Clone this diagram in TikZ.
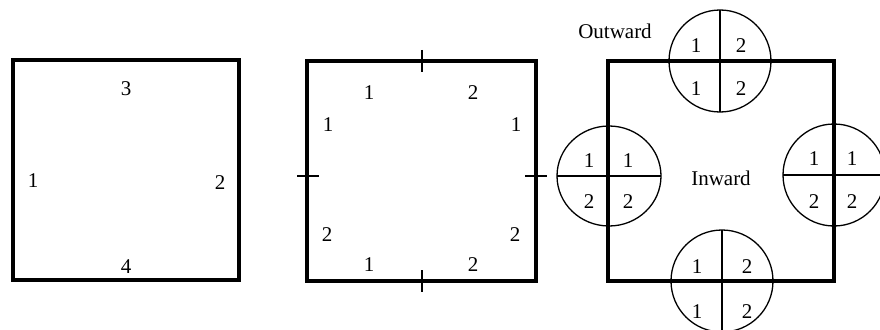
\documentclass[tikz,border=0pt]{standalone}
\usepackage{fontspec}
\setmainfont{Liberation Serif}
\begin{document}
\begin{tikzpicture}[x=1pt,y=-1pt,
  frame/.style={line width=4pt,line join=miter},
  thin/.style={line width=1.3pt},
  lbl/.style={inner sep=0pt,font=\fontsize{21}{24}\selectfont}]
\useasboundingbox (0,0) rectangle (880,329);
\clip (0,0) rectangle (880,329);
% ---- square 1
\draw[frame] (13,60) rectangle (239,280);
\node[lbl] (a3) at (126,89) {3};
\node[lbl] (a1) at (33,181) {1};
\node[lbl] (a2) at (220,183) {2};
\node[lbl] (a4) at (126,267) {4};
% ---- square 2
\draw[frame] (307,61) rectangle (536,281);
\draw[thin] (422,50) -- (422,72);
\draw[thin] (422,270) -- (422,292);
\draw[thin] (297,176) -- (319,176);
\draw[thin] (525,176) -- (547,176);
\node[lbl] (b1) at (369,93) {1};
\node[lbl] (b2) at (473,93) {2};
\node[lbl] (b3) at (328,125) {1};
\node[lbl] (b4) at (516,125) {1};
\node[lbl] (b5) at (327,235) {2};
\node[lbl] (b6) at (515,235) {2};
\node[lbl] (b7) at (369,265) {1};
\node[lbl] (b8) at (473,265) {2};
% ---- square 3 with circles
\draw[thin] (720,61) circle (51);
\draw[thin] (720,10) -- (720,112);
\draw[thin] (609,176) ellipse (52 and 50);
\draw[thin] (557,176) -- (661,176);
\draw[thin] (834,175) circle (51);
\draw[thin] (783,175) -- (885,175);
\draw[thin] (722,281) circle (51);
\draw[thin] (722,230) -- (722,332);
\draw[frame] (608,61) rectangle (834,281);
\node[lbl] (c1) at (696,46) {1};
\node[lbl] (c2) at (741,46) {2};
\node[lbl] (c3) at (696,89) {1};
\node[lbl] (c4) at (741,89) {2};
\node[lbl] (d1) at (589,161) {1};
\node[lbl] (d2) at (628,161) {1};
\node[lbl] (d3) at (589,202) {2};
\node[lbl] (d4) at (628,202) {2};
\node[lbl] (e1) at (814,159) {1};
\node[lbl] (e2) at (852,159) {1};
\node[lbl] (e3) at (814,202) {2};
\node[lbl] (e4) at (852,202) {2};
\node[lbl] (f1) at (697,267) {1};
\node[lbl] (f2) at (747,267) {2};
\node[lbl] (f3) at (697,312) {1};
\node[lbl] (f4) at (747,312) {2};
\node[lbl] (out) at (615,31) {Outward};
\node[lbl] (in) at (721,178) {Inward};
\end{tikzpicture}
\end{document}
